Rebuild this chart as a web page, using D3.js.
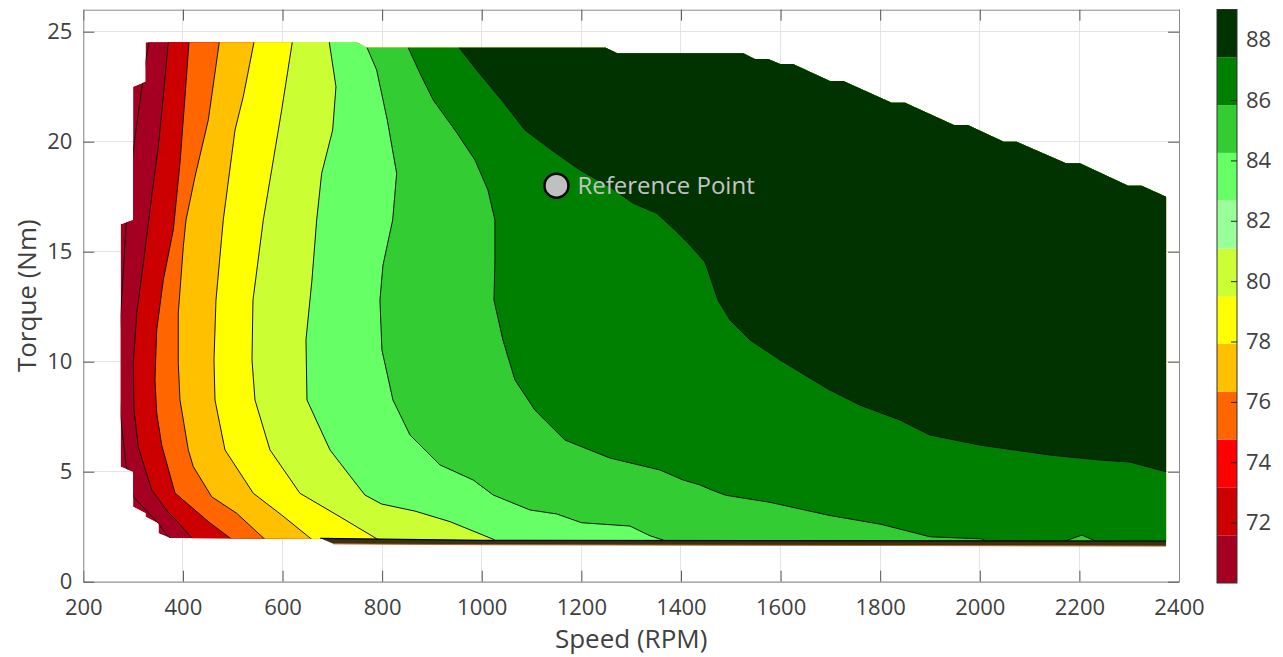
<!DOCTYPE html>
<html>
<head>
<meta charset="utf-8">
<script src="https://cdn.jsdelivr.net/npm/d3@7"></script>
<style>
  body { margin: 0; background: #fff; }
  text { font-family: "Open Sans", sans-serif; }
</style>
</head>
<body>
<svg id="chart" width="1283" height="657"></svg>
<script>
// colorbar levels and colours (bottom to top)
var levels = [70, 71.58, 73.17, 74.75, 76.33, 77.92, 79.5, 81.08, 82.67, 84.25, 85.83, 87.42, 89];
var bandColors = ['#a50021', '#cc0000', '#ff0000', '#ff6600', '#ffc000', '#ffff00',
  '#ccff33', '#99ff99', '#66ff66', '#33cc33', '#008000', '#003300'];

var xTicks = [200, 400, 600, 800, 1000, 1200, 1400, 1600, 1800, 2000, 2200, 2400];
var yTicks = [0, 5, 10, 15, 20, 25];
var barTicks = [72, 74, 76, 78, 80, 82, 84, 86, 88];

// operating envelope, [speed, torque]
var envelope = [
  [325, 24.52], [749.5, 24.52], [769, 24.27], [1249, 24.27], [1272, 24.02], [1525, 24.02],
  [1548, 23.76], [1575, 23.76], [1599, 23.53], [1625, 23.53], [1699, 22.76], [1726, 22.76],
  [1823, 21.77], [1850, 21.77], [1948, 20.76], [1976, 20.76], [2048, 20.0], [2074, 20.0],
  [2173, 19.02], [2201, 19.02], [2298, 18.0], [2325, 18.0], [2374, 17.5],
  [2374, 1.85], [1000, 1.88], [676, 1.95], [374, 1.99],
  [351, 2.2], [351, 2.65], [325, 2.95], [325, 3.11], [300, 3.41], [300, 5.0], [275, 5.23],
  [275, 16.25], [300, 16.44], [300, 22.5], [325, 22.73]
];

// thin low-torque strip under the map
var stripTop = [[676, 1.97], [1000, 1.88], [2374, 1.85]];
var stripBottom = [[2374, 1.62], [1000, 1.68], [702, 1.72]];

// contour lines, [speed, torque], top to bottom
var c70 = [[331.9, 24.52], [323.8, 23.49], [319.2, 22.73], [300.4, 19.62], [289.7, 17.35],
  [286.3, 16.32], [275.1, 12.2], [267.7, 9.85], [275.1, 7.44], [286.3, 5.23], [300.4, 3.86],
  [350.6, 2.65], [370.6, 2.05], [384, 1.8]];
var c71 = [[370.6, 24.52], [360.6, 22.05], [350.6, 19.77], [337.3, 17.5], [320.5, 14.47],
  [307.2, 12.2], [300.4, 9.93], [301.8, 7.8], [310.4, 6.12], [337.3, 4.17], [370, 3.17],
  [388, 2.76], [417.6, 1.99], [424, 1.8]];
var c73 = [[412.2, 24.52], [404.2, 22.05], [394.1, 19.02], [380.7, 15.99], [360.6, 13.71],
  [347.4, 11.44], [343.9, 9.17], [347.4, 7.67], [357.4, 6.21], [384.1, 4.03], [454.4, 2.67],
  [494.5, 1.99], [506.5, 1.77]];
var c75 = [[473, 24.52], [451, 20.99], [424.3, 18.41], [406.2, 16.44], [400.8, 15.23],
  [390.7, 12.2], [390.7, 9.93], [394.1, 8.26], [410.8, 5.99], [420.8, 5.23], [457.8, 3.86],
  [508, 3.11], [561.4, 1.99], [574.8, 1.77]];
var c76 = [[542.7, 24.52], [521.2, 22.05], [504.6, 20.53], [481, 16.44], [466.4, 12.8],
  [462.4, 10.08], [464.4, 8.26], [484.5, 5.99], [541.3, 4.02], [598.3, 3.03], [655.1, 1.99],
  [667, 1.77]];
var c78 = [[619.6, 24.52], [598.3, 21.44], [561.4, 16.44], [540.7, 12.8], [538.7, 10.08],
  [544.7, 8.26], [574.8, 5.99], [635, 4.02], [715.4, 2.95], [785.6, 2.0], [801.7, 1.76]];
var c81 = [[693.9, 24.52], [707.3, 22.5], [700.7, 20.53], [678.6, 18.56], [668.6, 16.44],
  [659.1, 13.71], [647.1, 10.99], [649.1, 8.26], [695.3, 5.99], [742, 4.62], [765.5, 3.94],
  [799.1, 3.53], [865.9, 3.21], [936.2, 2.73], [1023.1, 1.93], [1036.5, 1.75]];
var c84 = [[766, 24.6], [768.9, 24.32], [789, 23.26], [810.3, 20.99], [829.2, 18.56],
  [821.2, 16.44], [801.7, 14.39], [795.6, 12.8], [799.6, 10.53], [821.7, 8.26], [855.9, 6.67],
  [916.1, 5.31], [983, 4.62], [1023.1, 3.94], [1096.8, 3.26], [1150.4, 3.08], [1200.6, 2.68],
  [1297.6, 2.53], [1337.7, 2.09], [1369.8, 1.85], [1377.8, 1.71]];
var c85 = [[852.5, 24.27], [876, 23.11], [902.7, 21.89], [946.3, 20.53], [986.4, 19.17],
  [1012.5, 17.8], [1026.5, 16.44], [1026.5, 14.62], [1024.5, 12.8], [1042.5, 10.99],
  [1066.7, 9.17], [1106.8, 7.8], [1167, 6.44], [1257.4, 5.62], [1357.8, 5.08], [1404.6, 4.62],
  [1438.1, 4.4], [1461.6, 4.17], [1489.9, 3.93], [1578.5, 3.61], [1698.7, 3.01],
  [1801.5, 2.61], [1900.5, 2.04], [2003, 1.95], [2017, 1.8], [2166, 1.8], [2205, 2.12],
  [2237, 1.8], [2500, 1.8]];
var c87 = [[950, 24.5], [954.9, 24.27], [989.8, 23.26], [1040, 21.89], [1086.7, 20.53],
  [1140.4, 19.62], [1197.2, 18.71], [1257.4, 17.95], [1304.2, 17.2], [1351.2, 16.75],
  [1384.5, 16.06], [1418, 15.3], [1448.2, 14.53], [1462.2, 13.62], [1474.3, 12.8],
  [1498.4, 11.9], [1538.5, 10.99], [1598.7, 10.08], [1638.9, 9.53], [1699.1, 8.71],
  [1759.3, 8.03], [1839.6, 7.35], [1899.8, 6.67], [2000.2, 6.21], [2140.7, 5.76],
  [2241.1, 5.53], [2301.4, 5.44], [2373.6, 5.0], [2500, 5.0]];

// band = colour index filled to the right of each line
var contours = [
  {band: 0, points: c70},
  {band: 1, points: c71},
  {band: 3, points: c73},
  {band: 4, points: c75},
  {band: 5, points: c76},
  {band: 6, points: c78},
  {band: 8, points: c81},
  {band: 9, points: c84},
  {band: 10, points: c85},
  {band: 11, points: c87}
];

var refPoint = [1150, 18];
var refLabel = 'Reference Point';

var svg = d3.select('#chart');

var x = d3.scaleLinear().domain([200, 2400]).range([83.3, 1179]);
var y = d3.scaleLinear().domain([0, 26]).range([581.7, 9.7]);

var line = d3.line()
  .x(function(d) { return x(d[0]); })
  .y(function(d) { return y(d[1]); });

// polygon covering everything right of (and above) a contour line
function regionRight(pts) {
  var first = pts[0], last = pts[pts.length - 1];
  var poly = [[first[0], 27]].concat(pts);
  if (last[0] < 2400) {
    poly.push([last[0], 0.5], [2600, 0.5]);
  }
  poly.push([2600, 27]);
  return poly;
}

// grid lines
var grid = svg.append('g').attr('shape-rendering', 'crispEdges');
grid.selectAll('line.gx')
  .data(xTicks)
  .enter()
  .append('line')
  .attr('x1', function(d) { return x(d); })
  .attr('x2', function(d) { return x(d); })
  .attr('y1', y(0))
  .attr('y2', y(26))
  .attr('stroke', '#e4e4e4');
grid.selectAll('line.gy')
  .data(yTicks)
  .enter()
  .append('line')
  .attr('x1', x(200))
  .attr('x2', x(2400))
  .attr('y1', function(d) { return y(d); })
  .attr('y2', function(d) { return y(d); })
  .attr('stroke', '#e4e4e4');

// clip everything to the envelope
svg.append('defs')
  .append('clipPath')
  .attr('id', 'envClip')
  .append('path')
  .attr('d', line(envelope) + 'Z');

var map = svg.append('g').attr('clip-path', 'url(#envClip)');

map.append('path')
  .attr('d', line(envelope) + 'Z')
  .attr('fill', bandColors[0]);

map.selectAll('path.band')
  .data(contours)
  .enter()
  .append('path')
  .attr('class', 'band')
  .attr('d', function(d) { return line(regionRight(d.points)) + 'Z'; })
  .attr('fill', function(d) { return bandColors[d.band]; });

map.selectAll('path.contour')
  .data(contours)
  .enter()
  .append('path')
  .attr('class', 'contour')
  .attr('d', function(d) { return line([[d.points[0][0], 26]].concat(d.points)); })
  .attr('fill', 'none')
  .attr('stroke', '#111')
  .attr('stroke-width', 1);

// low torque strip
svg.append('path')
  .attr('d', line(stripTop.concat(stripBottom)) + 'Z')
  .attr('fill', '#3a3210');
svg.append('path')
  .attr('d', line(stripTop))
  .attr('fill', 'none')
  .attr('stroke', '#000')
  .attr('stroke-width', 1.2);
svg.append('path')
  .attr('d', line(stripBottom))
  .attr('fill', 'none')
  .attr('stroke', '#b8602a')
  .attr('stroke-width', 1);

// axes
function styleAxis(g) {
  g.select('.domain').attr('stroke', '#8a8a8a');
  g.selectAll('.tick line').attr('stroke', '#555');
  g.selectAll('text').attr('fill', '#404040').attr('font-size', 22)
    .attr('font-family', '"Open Sans", sans-serif');
  g.attr('font-family', null).attr('font-size', null);
}

svg.append('g')
  .attr('transform', 'translate(0,' + y(0) + ')')
  .call(d3.axisBottom(x).tickValues(xTicks).tickFormat(d3.format('d'))
    .tickSizeInner(-11).tickSizeOuter(0).tickPadding(18))
  .call(styleAxis);
svg.append('g')
  .attr('transform', 'translate(0,' + y(26) + ')')
  .call(d3.axisTop(x).tickValues(xTicks).tickSizeInner(-11).tickSizeOuter(0).tickFormat(''))
  .call(styleAxis);
svg.append('g')
  .attr('transform', 'translate(' + x(200) + ',0)')
  .call(d3.axisLeft(y).tickValues(yTicks).tickSizeInner(-11).tickSizeOuter(0).tickPadding(11))
  .call(styleAxis);
svg.append('g')
  .attr('transform', 'translate(' + x(2400) + ',0)')
  .call(d3.axisRight(y).tickValues(yTicks).tickSizeInner(-11).tickSizeOuter(0).tickFormat(''))
  .call(styleAxis);

// axis titles
svg.append('text')
  .attr('x', (x(200) + x(2400)) / 2)
  .attr('y', 648)
  .attr('text-anchor', 'middle')
  .attr('font-size', 26)
  .attr('fill', '#404040')
  .text('Speed (RPM)');
svg.append('text')
  .attr('transform', 'translate(36,' + (y(0) + y(26)) / 2 + ') rotate(-90)')
  .attr('text-anchor', 'middle')
  .attr('font-size', 26)
  .attr('fill', '#404040')
  .text('Torque (Nm)');

// reference point
svg.append('circle')
  .attr('cx', x(refPoint[0]))
  .attr('cy', y(refPoint[1]))
  .attr('r', 12)
  .attr('fill', '#c0c0c0')
  .attr('stroke', '#000')
  .attr('stroke-width', 2.5);
svg.append('text')
  .attr('x', x(refPoint[0]) + 21)
  .attr('y', y(refPoint[1]) + 8)
  .attr('font-size', 24)
  .attr('fill', '#c4c4c4')
  .text(refLabel);

// colorbar
var cb = d3.scaleLinear().domain([70, 89]).range([583, 9.5]);
var bar = svg.append('g');
bar.selectAll('rect.band')
  .data(d3.pairs(levels))
  .enter()
  .append('rect')
  .attr('class', 'band')
  .attr('x', 1217)
  .attr('width', 20)
  .attr('y', function(d) { return cb(d[1]); })
  .attr('height', function(d) { return cb(d[0]) - cb(d[1]); })
  .attr('fill', function(d, i) { return bandColors[i]; });
bar.append('rect')
  .attr('x', 1217)
  .attr('y', cb(89))
  .attr('width', 20)
  .attr('height', cb(70) - cb(89))
  .attr('fill', 'none')
  .attr('stroke', '#333')
  .attr('stroke-width', 1);
svg.append('g')
  .attr('transform', 'translate(1237,0)')
  .call(d3.axisRight(cb).tickValues(barTicks).tickSizeInner(-6).tickSizeOuter(0).tickPadding(9))
  .call(styleAxis)
  .call(function(g) {
    g.select('.domain').remove();
    g.selectAll('.tick line').attr('stroke', '#222');
  });
</script>
</body>
</html>
